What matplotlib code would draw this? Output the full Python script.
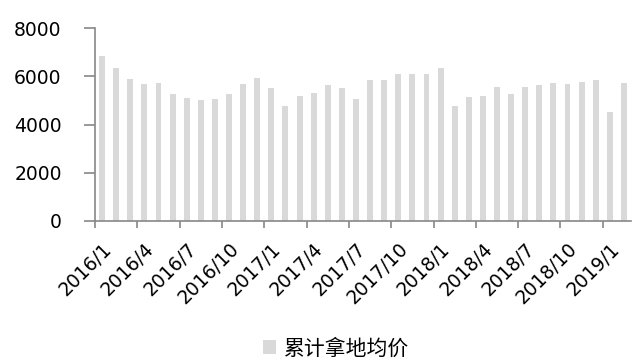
import numpy as np
import matplotlib
matplotlib.use("Agg")
import matplotlib.pyplot as plt

plt.rcParams['font.family'] = ['DejaVu Sans', 'Noto Sans CJK SC']

# monthly data 2016/1 - 2019/2
months = [f"{y}/{m}" for y in (2016, 2017, 2018) for m in range(1, 13)] + ["2019/1", "2019/2"]
price = [6840, 6330, 5870, 5700, 5720, 5260, 5100, 5010, 5070, 5280, 5700, 5930,
         5510, 4750, 5180, 5310, 5640, 5510, 5070, 5830, 5860, 6090, 6090, 6090,
         6340, 4780, 5150, 5180, 5550, 5260, 5570, 5640, 5720, 5680, 5760, 5840,
         4540, 5730]
series_name = "累计拿地均价"

fig = plt.figure(figsize=(6.38, 3.61), dpi=100)
ax = fig.add_axes([0.149, 0.388, 0.840, 0.534])

x = np.arange(len(months))
ax.bar(x, price, width=0.42, color='#d9d9d9', label=series_name)

ax.set_xlim(-0.5, len(months) - 0.5)
ax.set_ylim(0, 8000)
ax.set_yticks([0, 2000, 4000, 6000, 8000])

# ticks at category boundaries, labels at category centres
ax.set_xticks(np.arange(-0.5, len(months), 3))
ax.set_xticklabels([])
ax.set_xticks(x[::3], minor=True)
ax.set_xticklabels(months[::3], minor=True, rotation=45, ha='right',
                   rotation_mode='anchor', fontsize=13.5)
ax.tick_params(axis='x', which='minor', length=0, pad=13)
ax.tick_params(axis='x', which='major', length=5, color='#888888', width=1.2)
ax.tick_params(axis='y', length=8, color='#888888', width=1.2, labelsize=13.5, pad=16)

for s in ('top', 'right'):
    ax.spines[s].set_visible(False)
for s in ('left', 'bottom'):
    ax.spines[s].set_color('#888888')
    ax.spines[s].set_linewidth(1.2)

leg = fig.legend(loc='center', bbox_to_anchor=(0.527, 0.035), frameon=False,
                 handlelength=0.6, handleheight=0.6, handletextpad=0.4,
                 prop={'family': ['Noto Sans CJK SC'], 'size': 15})

fig.savefig("out.png", dpi=100)
